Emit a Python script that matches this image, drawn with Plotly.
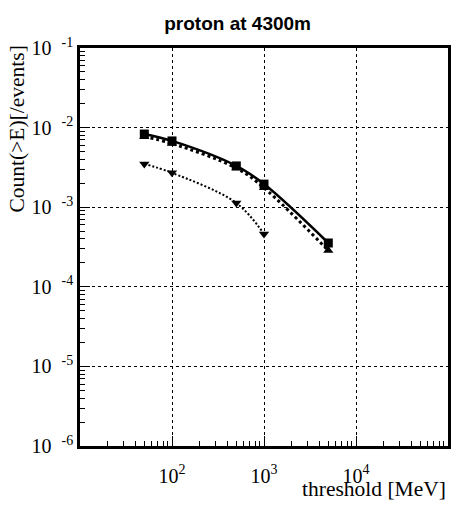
import plotly.graph_objects as go

# threshold energies [MeV]
thresholds = [50, 100, 500, 1000, 5000]
thresholds_low = [50, 100, 500, 1000]

# Count(>E) per event
series_square = [8.3e-3, 6.8e-3, 3.3e-3, 1.95e-3, 3.55e-4]
series_tri_up = [7.7e-3, 6.3e-3, 3.1e-3, 1.75e-3, 2.85e-4]
series_tri_down = [3.5e-3, 2.7e-3, 1.13e-3, 4.6e-4]

y_tick_vals = [1e-6, 1e-5, 1e-4, 1e-3, 1e-2, 1e-1]
y_tick_text = ["10&nbsp;&nbsp;<sup>-6</sup>", "10&nbsp;&nbsp;<sup>-5</sup>", "10&nbsp;&nbsp;<sup>-4</sup>",
               "10&nbsp;&nbsp;<sup>-3</sup>", "10&nbsp;&nbsp;<sup>-2</sup>", "10&nbsp;&nbsp;<sup>-1</sup>"]
x_tick_vals = [1e2, 1e3, 1e4]
x_tick_text = ["10<sup>2</sup>", "10<sup>3</sup>", "10<sup>4</sup>"]

serif = "Liberation Serif, Times New Roman, serif"

fig = go.Figure()
fig.add_trace(go.Scatter(
    x=thresholds, y=series_tri_up, mode="lines+markers",
    line=dict(color="black", width=3, dash="3px,3px", shape="spline"),
    marker=dict(symbol="triangle-up", size=9, color="black"),
    showlegend=False))
fig.add_trace(go.Scatter(
    x=thresholds, y=series_square, mode="lines+markers",
    line=dict(color="black", width=2.5, shape="spline"),
    marker=dict(symbol="square", size=9, color="black"),
    showlegend=False))
fig.add_trace(go.Scatter(
    x=thresholds_low, y=series_tri_down, mode="lines+markers",
    line=dict(color="black", width=2, dash="2px,2px", shape="spline"),
    marker=dict(symbol="triangle-down", size=9, color="black"),
    showlegend=False))

fig.update_layout(
    width=457, height=508,
    margin=dict(l=80, r=9, t=48, b=62),
    paper_bgcolor="white", plot_bgcolor="white",
    title=dict(text="<b>proton at 4300m</b>", x=0.52, xanchor="center",
               y=0.955, yanchor="middle",
               font=dict(family="Liberation Sans, Arial, sans-serif", size=19, color="black")),
    font=dict(family=serif, color="black"),
    annotations=[
        dict(text="Count(>E)[/events]", textangle=-90, showarrow=False,
             xref="paper", yref="paper", x=(16 - 80) / 368, y=(446 - 44) / 398,
             xanchor="center", yanchor="top",
             font=dict(family=serif, size=21.5, color="black")),
        dict(text="threshold [MeV]", showarrow=False,
             xref="paper", yref="paper", x=1.0, y=(446 - 489) / 398,
             xanchor="right", yanchor="middle",
             font=dict(family=serif, size=21.5, color="black")),
    ],
)
fig.update_xaxes(
    type="log", range=[1, 5], automargin=False,
    tickvals=x_tick_vals, ticktext=x_tick_text,
    tickfont=dict(family=serif, size=20), ticklabelstandoff=10,
    ticks="inside", ticklen=10, tickwidth=1, tickcolor="black",
    minor=dict(ticks="inside", ticklen=5, tickcolor="black", dtick="D1", showgrid=False),
    showgrid=True, gridcolor="black", griddash="dot", gridwidth=1,
    showline=True, linecolor="black", linewidth=2.5, mirror=True,
    zeroline=False,
)
fig.update_yaxes(
    type="log", range=[-6, -1], automargin=False,
    tickvals=y_tick_vals, ticktext=y_tick_text,
    tickfont=dict(family=serif, size=20),
    ticks="inside", ticklen=10, tickwidth=1, tickcolor="black",
    minor=dict(ticks="inside", ticklen=5, tickcolor="black", dtick="D1", showgrid=False),
    showgrid=True, gridcolor="black", griddash="dot", gridwidth=1,
    showline=True, linecolor="black", linewidth=2.5, mirror=True,
    zeroline=False,
)
fig.write_html("out.html", config={"displayModeBar": False},
               post_script="document.body.style.margin='0';document.body.style.overflow='hidden';")
